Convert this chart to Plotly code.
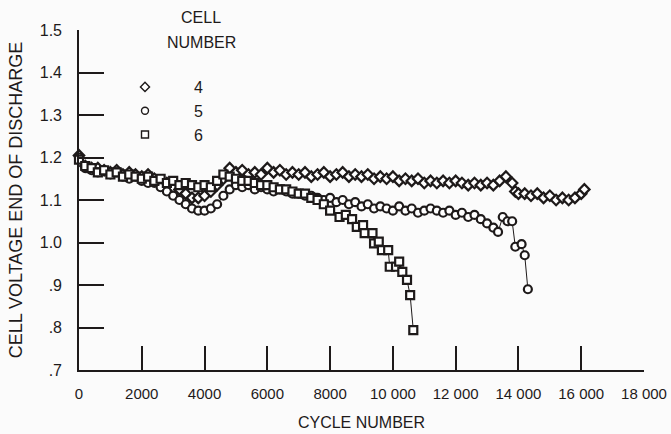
import plotly.graph_objects as go

# ---------------- data ----------------
cell4_cycles = [0, 200, 400, 600, 800, 1000, 1200, 1400, 1600, 1800, 2000, 2200, 2400, 2600, 2800,
                3000, 3200, 3400, 3600, 3800, 4000, 4200, 4400, 4600, 4800, 5000, 5200, 5400, 5600,
                5800, 6000, 6200, 6400, 6600, 6800, 7000, 7200, 7400, 7600, 7800, 8000, 8200, 8400,
                8600, 8800, 9000, 9200, 9400, 9600, 9800, 10000, 10200, 10400, 10600, 10800, 11000,
                11200, 11400, 11600, 11800, 12000, 12200, 12400, 12600, 12800, 13000, 13200, 13400,
                13600, 13800, 13900, 14000, 14200, 14400, 14600, 14800, 15000, 15200, 15400, 15600,
                15800, 16000, 16100]
cell4_volts = [1.205, 1.18, 1.175, 1.175, 1.17, 1.165, 1.17, 1.16, 1.165, 1.16, 1.155, 1.16, 1.15, 1.145,
               1.14, 1.13, 1.125, 1.115, 1.105, 1.105, 1.11, 1.12, 1.135, 1.15, 1.175, 1.165, 1.17, 1.16,
               1.165, 1.16, 1.175, 1.165, 1.17, 1.16, 1.165, 1.16, 1.165, 1.155, 1.16, 1.165, 1.155,
               1.16, 1.165, 1.155, 1.16, 1.155, 1.16, 1.15, 1.155, 1.15, 1.155, 1.145, 1.15, 1.145,
               1.15, 1.14, 1.145, 1.14, 1.145, 1.14, 1.145, 1.14, 1.135, 1.14, 1.135, 1.14, 1.135,
               1.145, 1.155, 1.14, 1.12, 1.115, 1.115, 1.11, 1.115, 1.105, 1.11, 1.10, 1.105, 1.10,
               1.105, 1.115, 1.125]

cell5_cycles = [0, 200, 400, 600, 800, 1000, 1200, 1400, 1600, 1800, 2000, 2200, 2400, 2600, 2800,
                3000, 3200, 3400, 3600, 3800, 4000, 4200, 4400, 4600, 4800, 5000, 5200, 5400, 5600,
                5800, 6000, 6200, 6400, 6600, 6800, 7000, 7200, 7400, 7600, 7800, 8000, 8200, 8400,
                8600, 8800, 9000, 9200, 9400, 9600, 9800, 10000, 10200, 10400, 10600, 10800, 11000,
                11200, 11400, 11600, 11800, 12000, 12200, 12400, 12600, 12800, 13000, 13200, 13350,
                13500, 13650, 13800, 13900, 14100, 14200, 14300]
cell5_volts = [1.20, 1.175, 1.17, 1.165, 1.17, 1.16, 1.165, 1.155, 1.15, 1.155, 1.145, 1.14, 1.14, 1.13,
               1.12, 1.11, 1.10, 1.09, 1.08, 1.075, 1.075, 1.08, 1.09, 1.11, 1.125, 1.135, 1.13, 1.135,
               1.125, 1.13, 1.125, 1.12, 1.125, 1.12, 1.115, 1.115, 1.11, 1.11, 1.105, 1.10, 1.105,
               1.095, 1.10, 1.09, 1.095, 1.085, 1.09, 1.08, 1.085, 1.08, 1.075, 1.085, 1.075, 1.08,
               1.07, 1.075, 1.08, 1.075, 1.07, 1.075, 1.065, 1.07, 1.06, 1.065, 1.055, 1.045, 1.035,
               1.025, 1.06, 1.05, 1.05, 0.99, 0.996, 0.97, 0.89]

cell6_cycles = [0, 200, 400, 600, 800, 1000, 1200, 1400, 1600, 1800, 2000, 2200, 2400, 2600, 2800,
                3000, 3200, 3400, 3600, 3800, 4000, 4200, 4400, 4600, 4800, 5000, 5200, 5400, 5600,
                5800, 6000, 6200, 6400, 6600, 6800, 7000, 7200, 7400, 7600, 7800, 8000, 8300, 8500,
                8700, 8850, 9050, 9100, 9350, 9400, 9550, 9650, 9850, 9900, 10100, 10200, 10300,
                10450, 10550, 10650]
cell6_volts = [1.195, 1.18, 1.175, 1.165, 1.17, 1.16, 1.165, 1.155, 1.16, 1.155, 1.15, 1.155, 1.145,
               1.15, 1.14, 1.145, 1.135, 1.14, 1.135, 1.13, 1.135, 1.13, 1.145, 1.16, 1.155, 1.15,
               1.145, 1.145, 1.14, 1.135, 1.135, 1.13, 1.125, 1.125, 1.12, 1.115, 1.115, 1.105, 1.10,
               1.09, 1.075, 1.06, 1.065, 1.055, 1.037, 1.041, 1.022, 1.022, 0.998, 1.002, 0.982,
               0.982, 0.943, 0.943, 0.955, 0.931, 0.912, 0.876, 0.794]

x_ticks = [0, 2000, 4000, 6000, 8000, 10000, 12000, 14000, 16000, 18000]
x_tick_labels = ["0", "2000", "4000", "6000", "8000", "10 000", "12 000", "14 000", "16 000", "18 000"]
y_ticks = [0.7, 0.8, 0.9, 1.0, 1.1, 1.2, 1.3, 1.4, 1.5]
y_tick_labels = [".7", ".8", ".9", "1.0", "1.1", "1.2", "1.3", "1.4", "1.5"]
legend_names = ["4", "5", "6"]

series = [
    (legend_names[0], cell4_cycles, cell4_volts, "diamond", 8),
    (legend_names[1], cell5_cycles, cell5_volts, "circle", 8),
    (legend_names[2], cell6_cycles, cell6_volts, "square", 8),
]

INK = "#1e1a1a"
BG = "#fbfbfb"
FONT = "Liberation Sans, Arial, sans-serif"

W, H = 671, 434
ML, MR, MT, MB = 79, 27, 30, 64
plot_w = W - ML - MR
plot_h = H - MT - MB


def px_x(p):
    return (p - ML) / plot_w


def px_y(p):
    return (H - MB - p) / plot_h


fig = go.Figure()
for name, xs, ys, sym, size in series:
    fig.add_trace(go.Scatter(
        x=xs, y=ys, mode="lines+markers", name=name, showlegend=False,
        line=dict(color=INK, width=1),
        marker=dict(symbol=sym, size=size, color="white", line=dict(color=INK, width=2.2)),
        cliponaxis=False,
    ))
# legend-only entries (markers only)
for name, xs, ys, sym, size in series:
    fig.add_trace(go.Scatter(
        x=[None], y=[None], mode="markers", name=name, showlegend=True,
        marker=dict(symbol=sym, size=7, color="white", line=dict(color=INK, width=1.4)),
    ))

fig.update_layout(
    width=W, height=H,
    margin=dict(l=ML, r=MR, t=MT, b=MB, autoexpand=False),
    paper_bgcolor=BG, plot_bgcolor=BG,
    font=dict(family=FONT, size=16, color=INK),
    showlegend=True,
    legend=dict(
        x=px_x(96), y=px_y(70), xanchor="left", yanchor="top",
        bgcolor="rgba(0,0,0,0)", borderwidth=0,
        font=dict(family=FONT, size=16, color=INK),
        itemwidth=88, tracegroupgap=0,
    ),
)
fig.add_annotation(text="CELL", x=px_x(201), y=px_y(18), xref="paper", yref="paper",
                   xanchor="center", yanchor="middle",
                   showarrow=False, font=dict(family=FONT, size=16, color=INK))
fig.add_annotation(text="NUMBER", x=px_x(201), y=px_y(43), xref="paper", yref="paper",
                   xanchor="center", yanchor="middle",
                   showarrow=False, font=dict(family=FONT, size=16, color=INK))

fig.update_xaxes(
    range=[0, 18000], showgrid=False, zeroline=False, automargin=False,
    showline=True, linecolor=INK, linewidth=1.6,
    ticks="inside", ticklen=24, tickwidth=1.6, tickcolor=INK,
    tickvals=x_ticks, ticktext=x_tick_labels, ticklabelstandoff=9,
    tickfont=dict(family=FONT, size=15, color=INK),
    title=dict(text="CYCLE NUMBER", font=dict(family=FONT, size=16, color=INK), standoff=16),
)
fig.update_yaxes(
    range=[0.7, 1.5], showgrid=False, zeroline=False, automargin=False,
    showline=True, linecolor=INK, linewidth=1.6,
    ticks="inside", ticklen=25, tickwidth=1.6, tickcolor=INK,
    tickvals=y_ticks, ticktext=y_tick_labels, ticklabelstandoff=12,
    tickfont=dict(family=FONT, size=16, color=INK),
    title=dict(text="CELL VOLTAGE END OF DISCHARGE", font=dict(family=FONT, size=18, color=INK), standoff=12),
)

fig.write_html("out.html")
